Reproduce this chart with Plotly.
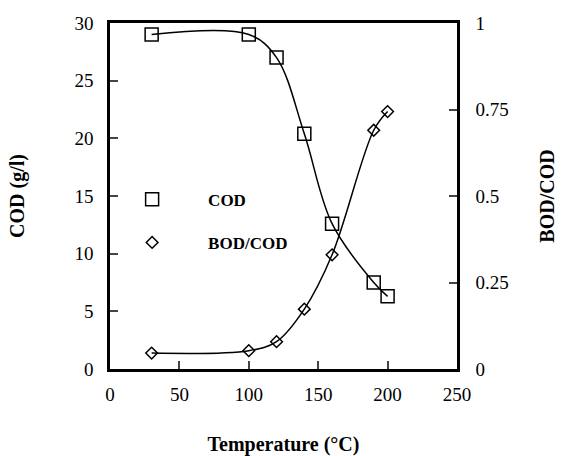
import plotly.graph_objects as go

temp = [30, 100, 120, 140, 160, 190, 200]
cod = [29.0, 29.0, 27.0, 20.4, 12.6, 7.5, 6.3]
bod_cod = [0.046, 0.053, 0.079, 0.173, 0.33, 0.69, 0.744]

FONT = "Liberation Serif"
TICKFONT = dict(family=FONT, size=19, color="black")
TITLEFONT = dict(family=FONT, size=20, color="black")

fig = go.Figure()
fig.add_trace(go.Scatter(x=temp, y=cod, mode="lines", line=dict(color="black", width=1.5, shape="spline", smoothing=1.0),
                         showlegend=False, yaxis="y"))
fig.add_trace(go.Scatter(x=temp, y=bod_cod, mode="lines", line=dict(color="black", width=1.5, shape="spline", smoothing=1.0),
                         showlegend=False, yaxis="y2"))
fig.add_trace(go.Scatter(x=temp, y=cod, mode="markers", name="COD", legendgroup="a",
                         marker=dict(symbol="square-open", size=13, color="black", line=dict(width=1.5)), yaxis="y"))
fig.add_trace(go.Scatter(x=temp, y=bod_cod, mode="markers", name="BOD/COD", legendgroup="b",
                         marker=dict(symbol="diamond-open", size=9, color="black", line=dict(width=1.5)), yaxis="y2"))

fig.update_layout(
    width=562, height=456,
    margin=dict(l=110, r=105, t=23, b=87, autoexpand=False),
    plot_bgcolor="white", paper_bgcolor="white",
    font=dict(family=FONT, size=19, color="black"),
    showlegend=True,
    legend=dict(x=-0.04, y=0.427, xanchor="left", yanchor="middle", bgcolor="rgba(0,0,0,0)",
                font=dict(family=FONT, size=17, color="black", weight="bold"),
                itemwidth=102, tracegroupgap=18, traceorder="grouped"),
    xaxis=dict(range=[0, 250], tickvals=[0, 50, 100, 150, 200, 250], ticks="inside", ticklen=8, tickwidth=2,
               showline=True, linecolor="black", linewidth=2.5, mirror=True, showgrid=False, zeroline=False,
               ticklabelstandoff=6, tickfont=TICKFONT, automargin=False,
               title=dict(text="<b>Temperature (°C)</b>", font=TITLEFONT, standoff=40)),
    yaxis=dict(range=[0, 30], tickvals=[0, 5, 10, 15, 20, 25, 30], ticks="inside", ticklen=8, tickwidth=2,
               showline=True, linecolor="black", linewidth=2.5, showgrid=False, zeroline=False,
               ticklabelstandoff=10, tickfont=TICKFONT, automargin=False,
               title=dict(text="<b>COD (g/l)</b>", font=TITLEFONT, standoff=45)),
    yaxis2=dict(range=[0, 1], tickvals=[0, 0.25, 0.5, 0.75, 1], ticktext=["0", "0.25", "0.5", "0.75", "1"],
                overlaying="y", side="right", ticks="inside", ticklen=8, tickwidth=2,
                showline=True, linecolor="black", linewidth=2.5, showgrid=False, zeroline=False,
                ticklabelstandoff=12, tickfont=TICKFONT, automargin=False,
                title=dict(text="<b>BOD/COD</b>", font=TITLEFONT, standoff=33)),
)

fig.write_html("out.html")
